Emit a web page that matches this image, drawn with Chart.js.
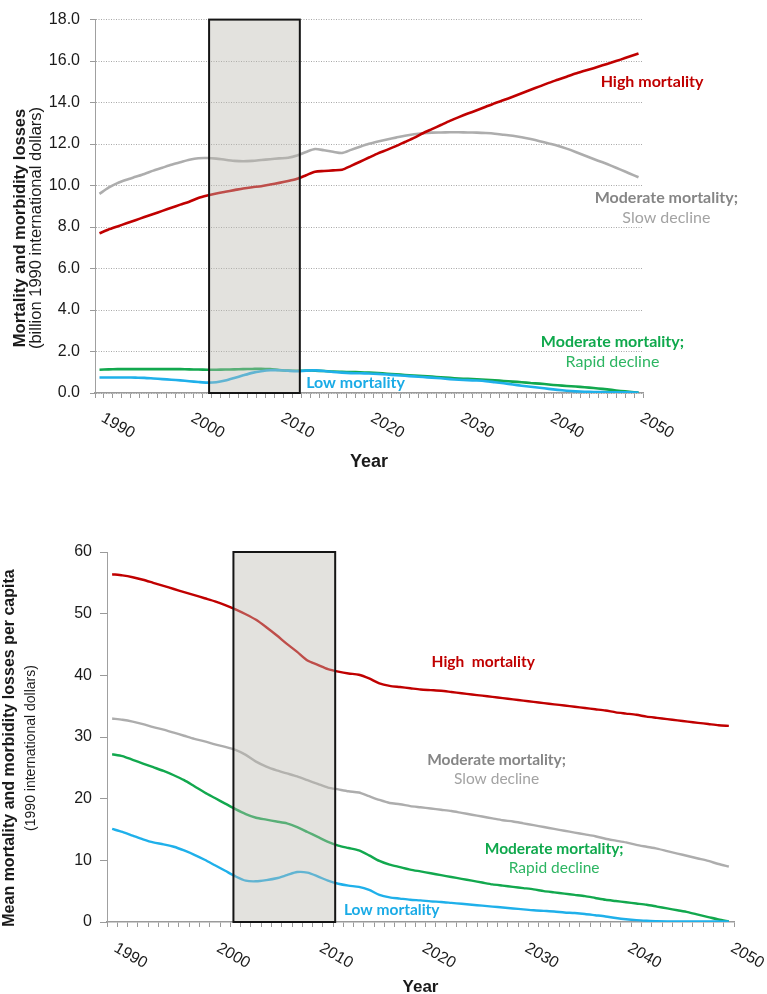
<!DOCTYPE html>
<html><head><meta charset="utf-8">
<script src="https://cdn.jsdelivr.net/npm/chart.js@4/dist/chart.umd.min.js"></script>
<style>
body{margin:0;background:#fff;width:767px;height:994px;overflow:hidden;position:relative}
.w{position:absolute;left:0;width:767px}
</style></head><body>
<div class="w" style="top:0;height:480px"><canvas id="c1"></canvas></div>
<div class="w" style="top:520px;height:474px"><canvas id="c2"></canvas></div>
<script>
const years = ['1990','1991','1992','1993','1994','1995','1996','1997','1998','1999',
'2000','2001','2002','2003','2004','2005','2006','2007','2008','2009',
'2010','2011','2012','2013','2014','2015','2016','2017','2018','2019',
'2020','2021','2022','2023','2024','2025','2026','2027','2028','2029',
'2030','2031','2032','2033','2034','2035','2036','2037','2038','2039',
'2040','2041','2042','2043','2044','2045','2046','2047','2048','2049','2050'];
const yearTickLabels = ['1990','2000','2010','2020','2030','2040','2050'];

// Top chart: total losses (billion 1990 international dollars)
const totalHigh = [7.70,7.88,8.03,8.18,8.33,8.48,8.63,8.78,8.93,9.08,
9.22,9.40,9.52,9.62,9.70,9.78,9.86,9.92,9.97,10.05,
10.13,10.22,10.33,10.50,10.67,10.70,10.73,10.76,10.95,11.15,
11.35,11.55,11.72,11.90,12.10,12.30,12.52,12.72,12.92,13.12,
13.30,13.47,13.63,13.80,13.97,14.12,14.28,14.45,14.62,14.78,
14.95,15.10,15.25,15.40,15.53,15.66,15.80,15.93,16.07,16.22,16.37];
const totalModSlow = [9.60,9.90,10.12,10.28,10.42,10.56,10.72,10.86,11.00,11.12,
11.24,11.32,11.33,11.30,11.24,11.19,11.17,11.19,11.23,11.27,
11.31,11.34,11.45,11.62,11.76,11.70,11.63,11.57,11.72,11.87,
12.01,12.12,12.22,12.31,12.40,12.47,12.52,12.55,12.56,12.57,
12.57,12.56,12.55,12.53,12.50,12.45,12.40,12.33,12.24,12.14,
12.03,11.92,11.78,11.62,11.45,11.28,11.12,10.95,10.77,10.58,10.40];
const totalModRapid = [1.12,1.14,1.15,1.15,1.15,1.15,1.15,1.15,1.15,1.15,
1.14,1.13,1.12,1.12,1.13,1.14,1.15,1.16,1.17,1.15,
1.11,1.08,1.07,1.08,1.08,1.06,1.03,1.02,1.01,1.00,
0.98,0.96,0.93,0.90,0.87,0.84,0.82,0.79,0.76,0.73,
0.70,0.68,0.66,0.64,0.61,0.58,0.55,0.52,0.48,0.45,
0.41,0.37,0.34,0.31,0.28,0.24,0.20,0.15,0.10,0.06,0.02];
const totalLow = [0.75,0.75,0.75,0.75,0.74,0.73,0.70,0.67,0.64,0.61,
0.57,0.53,0.50,0.52,0.60,0.72,0.85,0.97,1.05,1.10,
1.10,1.07,1.05,1.08,1.09,1.06,1.01,0.98,0.96,0.95,
0.94,0.92,0.89,0.86,0.83,0.80,0.77,0.74,0.71,0.67,
0.64,0.62,0.60,0.57,0.52,0.47,0.41,0.35,0.30,0.25,
0.20,0.15,0.11,0.08,0.06,0.05,0.04,0.03,0.03,0.03,0.02];

// Bottom chart: per capita losses (1990 international dollars)
const pcHigh = [56.4,56.2,55.9,55.5,55.0,54.5,54.0,53.5,53.0,52.5,
52.0,51.4,50.7,49.9,49.0,47.8,46.5,45.1,43.8,42.4,
41.7,41.0,40.6,40.3,40.1,39.5,38.7,38.3,38.1,37.9,
37.7,37.6,37.5,37.3,37.1,36.9,36.7,36.5,36.3,36.1,
35.9,35.7,35.5,35.3,35.1,34.9,34.7,34.5,34.3,34.0,
33.8,33.6,33.3,33.1,32.9,32.7,32.5,32.3,32.1,31.9,31.8];
const pcModSlow = [33.0,32.8,32.5,32.1,31.6,31.2,30.7,30.2,29.7,29.3,
28.8,28.4,27.9,27.1,26.0,25.2,24.6,24.1,23.6,23.0,
22.4,21.8,21.5,21.2,21.0,20.4,19.8,19.3,19.1,18.8,
18.6,18.4,18.2,18.0,17.7,17.4,17.1,16.8,16.5,16.3,
16.0,15.7,15.4,15.1,14.8,14.5,14.2,13.9,13.5,13.2,
12.9,12.5,12.2,11.9,11.5,11.1,10.7,10.3,9.9,9.4,9.0];
const pcModRapid = [27.2,26.9,26.3,25.7,25.1,24.5,23.8,23.0,22.0,21.0,
20.1,19.2,18.3,17.5,16.9,16.6,16.3,16.0,15.4,14.6,
13.8,13.0,12.4,12.0,11.6,10.8,9.9,9.3,8.9,8.5,
8.2,7.9,7.6,7.3,7.0,6.7,6.4,6.1,5.9,5.7,
5.5,5.3,5.0,4.8,4.6,4.4,4.2,3.9,3.6,3.4,
3.2,3.0,2.8,2.5,2.2,1.9,1.6,1.2,0.8,0.4,0.1];
const pcLow = [15.1,14.6,14.0,13.4,12.9,12.6,12.2,11.6,10.9,10.1,
9.2,8.3,7.4,6.7,6.6,6.8,7.1,7.6,8.1,8.0,
7.4,6.7,6.2,5.9,5.7,5.2,4.4,4.0,3.8,3.6,
3.5,3.35,3.25,3.1,2.95,2.8,2.65,2.5,2.35,2.2,
2.05,1.9,1.8,1.7,1.55,1.45,1.3,1.1,0.9,0.65,
0.45,0.3,0.2,0.12,0.1,0.1,0.1,0.1,0.1,0.1,0.1];

// Highlighted period (years)
const boxTop = [2002.2, 2012.3];
const boxBottom = [2001.8, 2011.7];

const RED='#C00000', GRAY='#ADADAD', GREEN='#12A84E', BLUE='#1FB0EA';
const AX='"Liberation Sans", Arial, sans-serif';
const NOTE='Lato, "Open Sans", sans-serif';

function ds(data,color,w){return {data, borderColor:color, borderWidth:w, pointRadius:0, tension:0.25, fill:false};}

function decor(o){
  return {
    id:'decor',
    afterDatasetsDraw(chart){
      const {ctx, scales:{x,y}} = chart;
      const x0=x.getPixelForValue(o.box[0]-1990), x1=x.getPixelForValue(o.box[1]-1990);
      const y0=y.getPixelForValue(y.max), y1=y.getPixelForValue(0);
      ctx.save();
      ctx.fillStyle='rgba(188,185,176,0.42)';
      ctx.fillRect(x0,y0,x1-x0,y1-y0);
      ctx.lineWidth=2; ctx.strokeStyle='#151515';
      ctx.strokeRect(x0,y0,x1-x0,y1-y0);
      ctx.restore();
    },
    afterDraw(chart){
      const {ctx, scales:{x,y}} = chart;
      ctx.save();
      // rotated year labels
      ctx.font='16px '+AX; ctx.fillStyle='#1a1a1a'; ctx.textAlign='left'; ctx.textBaseline='top';
      yearTickLabels.forEach(l=>{
        const px=x.getPixelForValue(years.indexOf(l));
        ctx.save(); ctx.translate(px+o.lblDx, x.top+o.lblDy); ctx.rotate(30*Math.PI/180);
        ctx.fillText(l,0,0); ctx.restore();
      });
      // x title
      ctx.font='bold '+o.yearSize+'px '+AX; ctx.textAlign='center'; ctx.textBaseline='alphabetic';
      ctx.fillText('Year',(chart.chartArea.left+chart.chartArea.right)/2,o.yearY);
      // y title
      ctx.save(); ctx.translate(o.t1x,o.tcy); ctx.rotate(-Math.PI/2);
      ctx.textBaseline='middle'; ctx.font='bold '+o.t1s+'px '+AX; ctx.fillText(o.t1,0,0); ctx.restore();
      ctx.save(); ctx.translate(o.t2x,o.tcy); ctx.rotate(-Math.PI/2);
      ctx.textBaseline='middle'; ctx.font=o.t2s+'px '+AX; ctx.fillText(o.t2,0,0); ctx.restore();
      // notes
      ctx.textAlign='center'; ctx.textBaseline='middle';
      o.notes.forEach(n=>{
        ctx.font=(n.b?'bold ':'')+o.noteSize+'px '+NOTE; ctx.fillStyle=n.c;
        ctx.fillText(n.t, x.getPixelForValue(n.x-1990), y.getPixelForValue(n.y));
      });
      ctx.restore();
    }
  };
}

function makeChart(id, sets, yMax, yStep, yFmt, yDotted, yWidth, xHeight, pad, o){
  return new Chart(document.getElementById(id), {
    type:'line',
    data:{labels:years, datasets:sets},
    options:{
      responsive:true, maintainAspectRatio:false, animation:false,
      layout:{padding:pad},
      plugins:{legend:{display:false}, tooltip:{enabled:false}},
      scales:{
        x:{type:'category', offset:true,
           grid:{offset:true, drawOnChartArea:false, drawTicks:true, tickLength:5, color:'#9a9a9a'},
           border:{color:'#9a9a9a', width:1.5},
           ticks:{display:false},
           afterFit(s){s.height=xHeight;}},
        y:{min:0, max:yMax,
           ticks:{stepSize:yStep, callback:yFmt, font:{size:16, family:AX}, color:'#1a1a1a', padding:o.yPad},
           grid:{drawOnChartArea:yDotted, tickLength:o.yTick, color: yDotted?'#a8a8a8':'#9a9a9a', tickColor:'#9a9a9a'},
           border:{color:'#a0a0a0', width:1, dash: yDotted?[1,1.5]:[]},
           afterFit(s){s.width=yWidth;}}
      }
    },
    plugins:[decor(o)]
  });
}

makeChart('c1', [ds(totalLow,BLUE,2.6), ds(totalModRapid,GREEN,2.6), ds(totalHigh,RED,2.6), ds(totalModSlow,GRAY,2.6)],
  18, 2, v=>v.toFixed(1), true, 95, 87, {top:10,right:124,left:0,bottom:0},
  {box:boxTop, lblDx:7, lblDy:17, yearSize:18, yearY:467, yPad:10, yTick:5, noteSize:16,
   t1:'Mortality and morbidity losses', t1s:16.5, t1x:20,
   t2:'(billion 1990 international dollars)', t2s:16.5, t2x:36, tcy:228,
   notes:[
    {t:'High mortality', x:2051.5, y:15.0, c:'#C00000', b:true},
    {t:'Moderate mortality;', x:2053.1, y:9.4, c:'#858585', b:true},
    {t:'Slow decline', x:2053.1, y:8.46, c:'#A3A3A3', b:false},
    {t:'Moderate mortality;', x:2047.1, y:2.49, c:'#0FA84C', b:true},
    {t:'Rapid decline', x:2047.1, y:1.5, c:'#2DB562', b:false},
    {t:'Low mortality', x:2018.5, y:0.47, c:'#1AABE6', b:true}
   ]});

makeChart('c2', [ds(pcLow,BLUE,2.4), ds(pcModRapid,GREEN,2.4), ds(pcHigh,RED,2.4), ds(pcModSlow,GRAY,2.4)],
  60, 10, v=>String(v), false, 107, 72, {top:32,right:33,left:0,bottom:0},
  {box:boxBottom, lblDx:7, lblDy:18, yearSize:17, yearY:472, yPad:8, yTick:7, noteSize:15.5,
   t1:'Mean mortality and morbidity losses per capita', t1s:16, t1x:10,
   t2:'(1990 international dollars)', t2s:14, t2x:31, tcy:228,
   notes:[
    {t:'High  mortality', x:2026.1, y:42.1, c:'#C00000', b:true},
    {t:'Moderate mortality;', x:2027.4, y:26.3, c:'#858585', b:true},
    {t:'Slow decline', x:2027.4, y:23.2, c:'#A3A3A3', b:false},
    {t:'Moderate mortality;', x:2033.0, y:11.8, c:'#0FA84C', b:true},
    {t:'Rapid decline', x:2033.0, y:8.75, c:'#2DB562', b:false},
    {t:'Low mortality', x:2017.2, y:1.95, c:'#1AABE6', b:true}
   ]});
</script>
</body></html>
